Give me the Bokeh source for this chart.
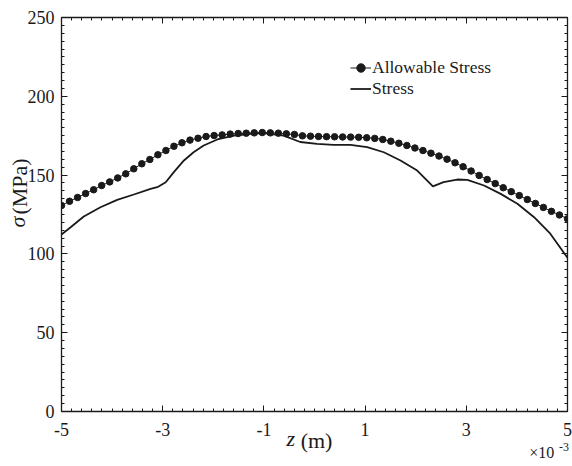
import numpy as np
from bokeh.plotting import figure
from bokeh.models import (FixedTicker, LinearAxis, Range1d, Legend, LegendItem,
                          CustomJSTickFormatter)
from bokeh.embed import file_html
from bokeh.resources import INLINE

# ---- data (z in units of 1e-3 m, stress in MPa) ----
allow_z = np.linspace(-5, 5, 64)
allow_stress = [130.7, 133.4, 135.8, 138.3, 140.7, 143.4, 145.7, 148.2, 150.8, 154.0,
                157.2, 159.9, 162.9, 165.6, 168.3, 170.5, 172.2, 173.4, 174.5, 175.1,
                175.5, 176.0, 176.4, 176.6, 176.8, 177.0, 176.8, 176.6, 176.2, 175.8,
                174.9, 174.7, 174.5, 174.4, 174.3, 174.2, 174.1, 174.0, 173.7, 173.3,
                172.6, 171.5, 170.2, 168.8, 167.2, 165.6, 163.9, 162.1, 160.1, 157.8,
                155.3, 152.6, 149.8, 147.2, 144.6, 142.0, 139.5, 137.0, 134.5, 132.0,
                129.5, 127.0, 124.7, 122.3]
stress_z = [-5.0, -4.82, -4.56, -4.23, -3.90, -3.57, -3.24, -3.09, -2.94, -2.78, -2.58,
            -2.39, -2.19, -1.92, -1.59, -1.26, -1.00, -0.61, -0.28, 0.05, 0.38, 0.71,
            1.04, 1.37, 1.70, 2.03, 2.34, 2.55, 2.82, 3.02, 3.35, 3.68, 4.01, 4.34, 4.66, 5.0]
stress = [112.3, 116.9, 123.7, 129.6, 134.3, 137.7, 141.3, 142.6, 145.5, 151.9, 159.3,
          164.5, 168.8, 172.6, 175.1, 176.2, 176.6, 175.1, 171.0, 169.8, 169.2, 169.2,
          167.7, 164.5, 159.3, 152.9, 142.8, 145.5, 147.2, 147.0, 143.4, 138.1, 131.8,
          123.3, 112.8, 97.5]
x_ticks = [-5, -3, -1, 1, 3, 5]
x_tick_labels = ["-5", "-3", "-1", "1", "3", "5"]
y_ticks = [0, 50, 100, 150, 200, 250]
series_names = ["Allowable Stress", "Stress"]
x_title = ["z", "(m)"]
y_title = ["σ", "(MPa)"]
x_scale_note = ["×10", "-3"]

FONT = "Liberation Serif"
INK = "#1a1a1a"

p = figure(width=572, height=466, output_backend="svg", toolbar_location=None,
           x_range=Range1d(-5, 5), y_range=Range1d(0, 250),
           x_axis_location=None, y_axis_location=None,
           min_border_left=61, min_border_right=5, min_border_top=17, min_border_bottom=55)
p.outline_line_color = None
p.xgrid.visible = False
p.ygrid.visible = False
p.background_fill_color = "white"
p.border_fill_color = "white"

xt = FixedTicker(ticks=x_ticks, minor_ticks=list(np.round(np.arange(-5, 5.001, 0.2), 2)))
yt = FixedTicker(ticks=y_ticks, minor_ticks=list(range(0, 251, 5)))
blank = CustomJSTickFormatter(code="return ''")


def style(ax, labels=True):
    ax.axis_line_color = INK
    ax.axis_line_width = 1.3
    ax.major_tick_line_color = INK
    ax.minor_tick_line_color = INK
    ax.major_tick_in = 6
    ax.major_tick_out = 0
    ax.minor_tick_in = 3
    ax.minor_tick_out = 0
    ax.major_label_text_font = FONT
    ax.major_label_text_font_size = "18px"
    ax.major_label_text_color = INK
    if not labels:
        ax.formatter = blank
        ax.major_label_standoff = 0


bx = LinearAxis(ticker=xt, major_label_standoff=11,
                major_label_overrides=dict(zip(x_ticks, x_tick_labels)))
style(bx)
lx = LinearAxis(ticker=yt, major_label_standoff=7)
style(lx)
tx = LinearAxis(ticker=xt)
style(tx, False)
rx = LinearAxis(ticker=yt)
style(rx, False)
p.add_layout(tx, "above")
p.add_layout(rx, "right")
p.add_layout(bx, "below")
p.add_layout(lx, "left")


def text_axis(place, pos, text, size, fstyle, standoff, angle="horizontal"):
    ax = LinearAxis(ticker=FixedTicker(ticks=[pos], minor_ticks=[]),
                    major_label_overrides={pos: text},
                    axis_line_color=None, major_tick_line_color=None,
                    minor_tick_line_color=None, major_tick_in=0, major_tick_out=0,
                    major_label_standoff=standoff, major_label_text_font=FONT,
                    major_label_text_font_size=size, major_label_text_font_style=fstyle,
                    major_label_text_color=INK, major_label_orientation=angle)
    p.add_layout(ax, place)
    return ax


# axis titles, drawn as tick labels of label-only axes so that they sit outside the frame
text_axis("below", -0.47, x_title[0], "22px", "italic", -13)
text_axis("below", 0.04, x_title[1], "22px", "normal", -26)
text_axis("below", 4.93, x_scale_note[1], "12px", "normal", -13)
text_axis("below", 4.49, x_scale_note[0], "16px", "normal", -12)
text_axis("left", 142.8, y_title[1], "22px", "normal", -8, "vertical")
text_axis("left", 120.2, y_title[0], "22px", "italic", -26, "vertical")

l1 = p.line(allow_z, allow_stress, line_color=INK, line_width=1)
s1 = p.scatter(allow_z, allow_stress, size=6.5, fill_color=INK, line_color=INK)
l2 = p.line(stress_z, stress, line_color=INK, line_width=1.8)

legend = Legend(items=[LegendItem(label=series_names[0], renderers=[l1, s1]),
                       LegendItem(label=series_names[1], renderers=[l2])],
                location=(289, 312), padding=0, margin=0, spacing=0,
                glyph_width=21, glyph_height=21, label_height=21, label_standoff=1,
                label_text_font=FONT, label_text_font_size="17.5px", label_text_color=INK,
                background_fill_alpha=0, border_line_color=None)
p.add_layout(legend, "center")

open("out.html", "w").write(file_html(p, INLINE))
